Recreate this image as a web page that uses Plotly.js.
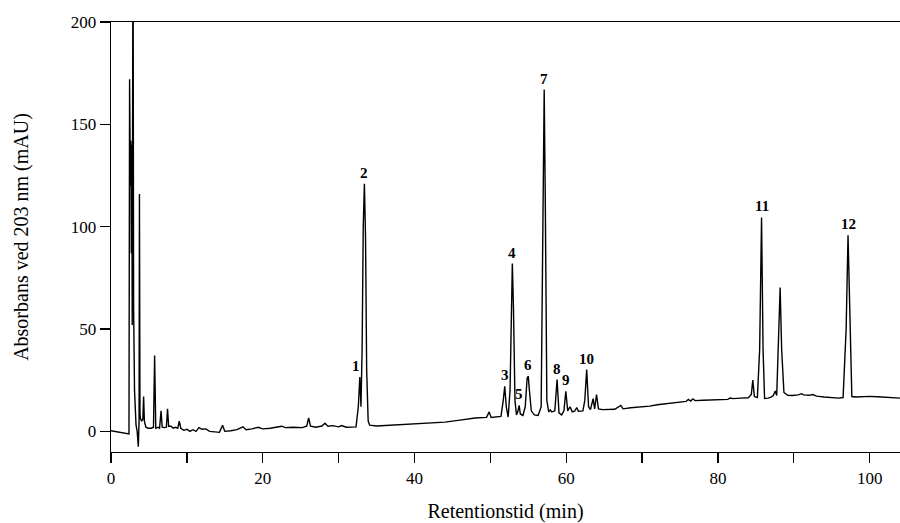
<!DOCTYPE html>
<html>
<head>
<meta charset="utf-8">
<script src="https://cdn.plot.ly/plotly-3.0.1.min.js"></script>
<style>
  body { margin: 0; background: #fff; }
  #myDiv { width: 900px; height: 523px; }
</style>
</head>
<body>
<div id="myDiv"></div>
<script>
// chromatogram: retention time (min) and absorbance (mAU)
var times = [
  0, 1.0, 2.2, 2.37, 2.45, 2.55, 2.62, 2.68, 2.74, 2.80, 2.90, 2.98, 3.1, 3.3, 3.45, 3.6, 3.7, 3.75, 3.82, 3.9,
  4.05, 4.2, 4.3, 4.4, 4.6, 4.9, 5.3, 5.6, 5.75, 5.9, 6.2, 6.4, 6.6, 6.75, 7.0, 7.3, 7.45, 7.6, 7.9, 8.2,
  8.5, 8.8, 9.0, 9.2, 9.6, 10.0, 10.4, 10.8, 11.2, 11.6, 12.0, 12.5, 13.0, 13.6, 14.3, 14.7, 15.0, 15.8, 16.6, 17.4,
  17.8, 18.6, 19.4, 20.0, 21, 22.5, 23, 24, 25.2, 25.8, 26.05, 26.3, 27, 27.8, 28.2, 28.6, 29.2, 30.0, 30.4, 31.0,
  31.8, 32.3, 32.6, 32.8, 32.95, 33.1, 33.25, 33.4, 33.55, 33.7, 33.9, 34.1, 35, 36, 38, 40, 42, 44, 46, 48,
  49.5, 49.85, 50.1, 50.8, 51.4, 51.7, 51.9, 52.1, 52.35, 52.6, 52.75, 52.9, 53.05, 53.25, 53.45, 53.65, 53.8, 53.95, 54.3, 54.6,
  54.85, 55.0, 55.15, 55.4, 55.8, 56.3, 56.7, 56.95, 57.1, 57.25, 57.45, 57.7, 57.9, 58.1, 58.5, 58.8, 59.05, 59.4, 59.7, 59.95,
  60.2, 60.5, 60.8, 61.1, 61.4, 61.6, 62.2, 62.45, 62.7, 62.95, 63.2, 63.55, 63.75, 64.0, 64.25, 64.8, 65.6, 66.4, 67.2, 67.5,
  68.5, 70, 71, 72, 73.5, 75, 75.8, 76.1, 76.4, 76.7, 77, 78, 79.5, 80.5, 81.3, 81.6, 82, 83, 84, 84.4,
  84.6, 84.8, 85.2, 85.5, 85.75, 85.95, 86.15, 86.6, 87.0, 87.3, 87.55, 87.75, 88.0, 88.2, 88.4, 88.7, 89.2, 89.8, 90.6, 91.0,
  91.3, 92.0, 92.5, 93, 94, 95, 95.9, 96.5, 96.9, 97.15, 97.4, 97.65, 98.2, 99, 100, 101, 102, 103, 104
];
var absorbance = [
  0.3, -0.3, -1.2, -1.3, 172, 120, 142, 87, 140, 52, 260, 60, 20, 3, 0, -7.5, 5, 116, 8, 6,
  5, 6, 17, 5, 2, 1.5, 1.5, 2, 37, 1.5, 2, 1.5, 10, 2, 1.8, 2, 11, 2.5, 2.5, 1.5,
  2, 1.5, 5, 1.5, 0.5, 1, 0, 0.8, 0, 1.8, 1, 1.2, 0, -0.3, -0.5, 3, 0, 0.3, 0.8, 2.2,
  0.8, 1.2, 2, 1.2, 1.5, 2.5, 1.8, 2, 1.8, 2.5, 6.5, 2.5, 2, 2.6, 4, 2.5, 2.8, 2.2, 2.8, 2,
  2, 2.2, 12, 26.5, 12, 40, 100, 121, 95, 30, 5, 3, 2.6, 2.8, 3.2, 3.5, 3.8, 4.5, 5.5, 6.5,
  6.8, 9.5, 6.8, 7, 7.3, 15, 22, 12, 7, 20, 65, 82, 60, 15, 8, 10, 12.7, 8.5, 7.8, 12,
  26, 27, 20, 10, 8, 7.8, 12, 120, 167, 110, 15, 9.5, 10.5, 9.5, 10, 25.3, 9, 8, 10, 19.6,
  10, 12, 9.5, 9.8, 11.6, 9.8, 10, 15, 30.2, 12, 10.6, 16, 11, 18, 11, 10.6, 10.8, 10.8, 12.7, 11,
  11.5, 12, 12.3, 13, 13.5, 14.2, 14.6, 15.6, 14.8, 15.8, 15, 15.2, 15.5, 15.8, 15.6, 16.3, 16, 16.2, 16.4, 18,
  25, 17, 16.5, 40, 104.5, 40, 16, 16.2, 16.7, 17.5, 19.7, 17.5, 50, 70.3, 40, 19, 17.6, 17.5, 17.8, 18.4,
  17.8, 17.6, 18, 17.2, 16.8, 16.4, 16.2, 16.5, 50, 95.8, 50, 17, 16.8, 17, 17.1, 16.9, 16.6, 16.4, 16.2
];

// numbered peaks
var peakLabels = ['1', '2', '3', '4', '5', '6', '7', '8', '9', '10', '11', '12'];
var peakTimes = [32.8, 33.4, 51.9, 52.9, 53.8, 55.0, 57.1, 58.8, 59.95, 62.7, 85.75, 97.15];
var peakHeights = [26.5, 121, 22, 82, 12.7, 27, 167, 25.3, 19.6, 30.2, 104.5, 95.8];

var serif = 'Liberation Serif';

var trace = {
  x: times,
  y: absorbance,
  type: 'scatter',
  mode: 'lines',
  line: { color: '#000', width: 1.4 },
  hoverinfo: 'x+y'
};

var annotations = [];
for (var i = 0; i < peakLabels.length; i++) {
  annotations.push({
    x: peakTimes[i],
    y: peakHeights[i],
    text: '<b>' + peakLabels[i] + '</b>',
    showarrow: false,
    xanchor: 'center',
    yanchor: 'bottom',
    xshift: peakLabels[i] == '1' ? -4 : 0,
    yshift: 1,
    font: { family: serif, size: 15, color: '#000' }
  });
}

var layout = {
  width: 900,
  height: 523,
  margin: { l: 111, r: 0, t: 22, b: 71 },
  paper_bgcolor: '#fff',
  plot_bgcolor: '#fff',
  showlegend: false,
  font: { family: serif, size: 16, color: '#000' },
  xaxis: {
    range: [0, 104],
    dtick: 20,
    showgrid: false,
    zeroline: false,
    showline: true,
    mirror: true,
    linecolor: '#000',
    linewidth: 1.3,
    ticks: 'outside',
    ticklen: 10,
    tickwidth: 1.3,
    tickcolor: '#000',
    minor: { dtick: 10, ticks: 'outside', ticklen: 10, tickwidth: 1.3, tickcolor: '#000' },
    tickfont: { family: serif, size: 17, color: '#000' },
    title: { text: 'Retentionstid (min)', font: { family: serif, size: 20, color: '#000' }, standoff: 26 }
  },
  yaxis: {
    range: [-10.1, 200],
    dtick: 50,
    showgrid: false,
    zeroline: false,
    showline: true,
    linecolor: '#000',
    linewidth: 1.3,
    ticks: 'outside',
    ticklen: 10,
    tickwidth: 1.3,
    tickcolor: '#000',
    tickfont: { family: serif, size: 17, color: '#000' },
    title: { text: 'Absorbans ved 203 nm (mAU)', font: { family: serif, size: 20, color: '#000' }, standoff: 36 }
  },
  annotations: annotations
};

Plotly.newPlot('myDiv', [trace], layout, { staticPlot: true });
</script>
</body>
</html>
